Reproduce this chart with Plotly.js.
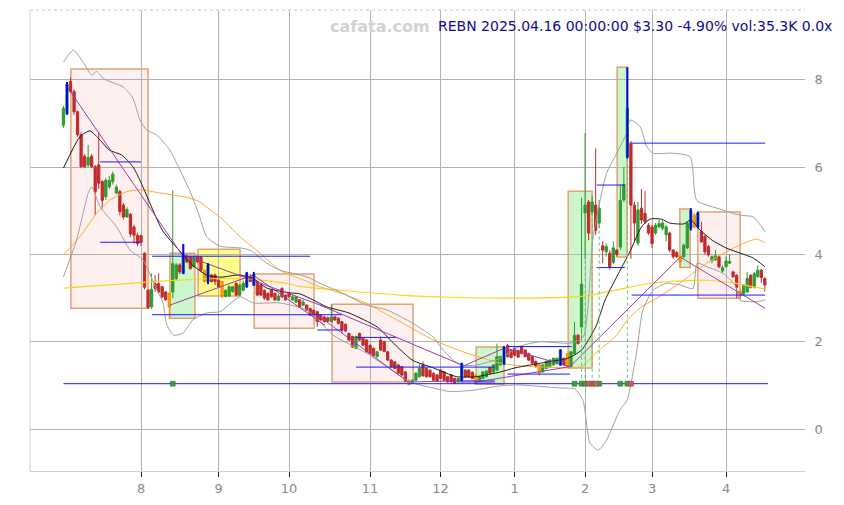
<!DOCTYPE html>
<html><head><meta charset="utf-8">
<script src="https://cdn.plot.ly/plotly-3.0.1.min.js"></script>
<style>html,body{margin:0;padding:0;background:#fff}#chart{width:844px;height:505px}</style>
</head><body><div id="chart"></div>
<script>
// ---- data (x = trading-day index, Jul 1 2024 = 0 ... Apr 16 2025 = 199) ----
const monthTickIdx = [22,44,64,87,107,128,148,167,188];
const monthTickText = ['8','9','10','11','12','1','2','3','4'];

const openP = [6.96,7.23,7.96,7.73,7.27,6.74,6.25,6.05,6.25,6.01,6.05,5.67,5.32,5.55,5.67,5.41,5.44,5.13,4.86,4.92,
4.63,4.44,4.43,4.03,3.18,2.80,3.33,3.33,3.26,3.14,3.11,3.14,3.45,3.76,3.57,3.96,3.95,3.72,3.95,3.95,
3.64,3.38,3.53,3.53,3.41,3.38,3.04,3.05,3.15,3.34,3.07,3.18,3.26,3.49,3.30,3.38,3.30,3.18,3.11,3.18,
3.11,2.95,3.22,3.07,3.11,2.96,2.91,2.96,2.84,2.84,2.76,2.72,2.69,2.61,2.57,2.55,2.46,2.57,2.54,2.46,
2.40,2.19,2.12,1.85,2.19,2.08,2.04,1.92,1.85,1.66,2.04,2.00,1.77,1.58,1.54,1.47,1.43,1.31,1.12,1.05,
1.12,1.20,1.47,1.39,1.35,1.28,1.24,1.35,1.31,1.20,1.24,1.16,1.08,1.12,1.35,1.35,1.30,1.24,1.12,1.16,
1.20,1.41,1.31,1.35,1.47,1.49,1.92,1.81,1.85,1.80,1.89,1.81,1.73,1.66,1.55,1.47,1.31,1.39,1.43,1.47,
1.50,1.47,1.62,1.73,1.43,1.73,2.15,2.34,4.95,5.20,4.97,5.13,4.72,4.20,4.06,4.03,3.82,4.10,4.17,5.25,
6.23,6.55,5.13,4.26,5.06,4.94,4.67,4.63,4.49,4.63,4.60,4.45,4.49,4.10,4.05,3.96,3.95,4.15,4.60,4.90,
4.63,4.52,4.41,4.18,3.86,3.88,3.95,3.62,3.72,3.80,3.60,3.52,3.16,3.10,3.14,3.52,3.25,3.49,3.64,3.45];
const highP = [7.40,7.95,8.05,7.78,7.30,6.80,6.30,6.51,6.30,6.05,6.81,5.70,5.75,5.80,5.90,5.60,5.48,5.18,5.08,4.95,
4.68,4.50,4.46,4.05,3.20,3.57,3.53,3.57,3.28,3.16,3.13,5.47,3.80,3.80,4.24,4.00,3.97,3.97,3.98,3.97,
3.66,3.80,3.55,3.56,3.45,3.40,3.20,3.30,3.28,3.36,3.32,3.40,3.60,3.55,3.60,3.40,3.32,3.20,3.13,3.20,
3.13,3.10,3.25,3.09,3.13,3.08,3.05,2.98,2.96,2.86,2.78,2.74,2.71,2.63,2.60,2.58,2.86,2.60,2.56,2.48,
2.42,2.21,2.14,2.14,2.21,2.10,2.06,1.94,1.87,1.79,2.12,2.02,1.79,1.60,1.56,1.49,1.45,1.33,1.14,1.14,
1.30,1.50,1.55,1.41,1.37,1.30,1.26,1.37,1.33,1.22,1.26,1.18,1.18,1.52,1.37,1.37,1.32,1.26,1.22,1.33,
1.35,1.43,1.49,1.96,1.68,1.90,1.95,1.83,1.87,1.82,1.91,1.83,1.75,1.68,1.57,1.49,1.49,1.57,1.60,1.64,
1.64,1.83,1.64,1.75,1.79,2.45,2.17,5.30,6.78,5.25,5.35,6.43,5.25,4.30,4.25,4.10,4.30,4.12,5.60,6.00,
8.29,6.60,5.20,5.20,5.50,5.45,4.72,4.68,4.72,4.80,4.78,4.68,4.52,4.12,4.07,3.98,4.25,4.75,5.06,4.95,
4.98,4.75,4.45,4.22,3.98,4.10,3.98,3.75,3.95,4.00,3.63,3.55,3.20,3.32,3.60,3.55,3.60,3.75,3.67,3.48];
const lowP = [6.90,7.20,7.70,7.20,6.70,5.98,5.98,6.00,5.98,4.90,5.50,5.05,5.25,5.50,5.60,5.38,4.90,4.80,4.84,4.40,
4.25,4.20,4.20,3.20,2.75,2.75,3.15,3.10,3.00,2.94,2.53,3.00,3.40,3.55,3.55,3.80,3.65,3.70,3.80,3.60,
3.36,3.32,3.36,3.30,3.24,3.00,3.02,3.03,3.12,3.05,3.05,3.16,3.24,3.36,3.28,3.05,3.05,2.96,2.94,3.01,
2.94,2.93,3.00,2.94,3.00,2.94,2.89,2.78,2.82,2.70,2.59,2.59,2.34,2.48,2.44,2.45,2.44,2.48,2.40,2.20,
2.22,2.02,1.86,1.83,2.02,1.90,1.75,1.71,1.67,1.64,1.79,1.76,1.56,1.41,1.37,1.26,1.22,1.08,1.00,1.03,
1.10,1.18,1.20,1.18,1.18,1.10,1.08,1.14,1.10,1.06,1.06,1.03,1.06,1.10,1.18,1.18,1.14,1.03,1.10,1.14,
1.18,1.26,1.29,1.33,1.45,1.47,1.64,1.62,1.67,1.63,1.71,1.64,1.56,1.49,1.41,1.22,1.29,1.37,1.41,1.45,
1.48,1.45,1.45,1.41,1.41,1.71,1.94,2.00,3.90,4.33,4.90,4.45,4.60,3.80,3.95,3.65,3.78,3.95,4.10,5.20,
6.20,3.90,4.30,4.20,4.70,4.70,4.45,4.15,4.45,4.60,4.55,4.30,4.05,3.90,3.92,3.71,3.92,4.12,4.55,4.60,
4.60,4.27,4.00,3.95,3.80,3.85,3.68,3.58,3.70,3.78,3.46,3.00,2.97,3.08,3.12,3.22,3.22,3.47,3.35,3.15];
const closeP = [7.35,7.90,7.73,7.27,6.74,6.01,6.01,6.22,6.01,5.44,5.63,5.24,5.70,5.70,5.84,5.54,4.98,4.86,5.03,4.47,
4.44,4.25,4.28,3.25,2.78,3.20,3.22,3.14,3.03,2.96,2.80,3.79,3.76,3.60,4.00,3.83,3.68,3.95,3.83,3.64,
3.38,3.76,3.38,3.38,3.26,3.04,3.18,3.26,3.26,3.07,3.30,3.34,3.57,3.38,3.54,3.07,3.07,3.00,2.96,3.03,
2.96,3.05,3.03,2.96,3.03,3.03,3.03,2.80,2.91,2.72,2.61,2.61,2.46,2.50,2.46,2.47,2.57,2.50,2.42,2.27,
2.25,2.04,1.88,2.12,2.04,1.92,1.77,1.73,1.69,1.77,1.81,1.78,1.58,1.43,1.39,1.28,1.24,1.10,1.02,1.12,
1.28,1.39,1.22,1.20,1.20,1.12,1.10,1.16,1.12,1.08,1.08,1.05,1.16,1.50,1.20,1.20,1.16,1.05,1.20,1.31,
1.33,1.28,1.47,1.66,1.66,1.88,1.66,1.64,1.69,1.65,1.73,1.66,1.58,1.51,1.43,1.28,1.47,1.55,1.58,1.62,
1.62,1.81,1.47,1.43,1.77,2.15,1.96,3.32,5.13,4.49,5.20,4.55,5.06,4.10,4.18,3.72,4.15,4.00,5.24,5.60,
7.35,5.13,4.72,5.02,4.79,4.75,4.49,4.25,4.67,4.71,4.72,4.63,4.10,3.95,3.95,3.83,4.21,4.72,5.00,4.63,
4.95,4.29,4.06,3.99,3.95,3.97,3.72,3.70,3.85,3.84,3.49,3.25,3.05,3.30,3.45,3.25,3.56,3.64,3.47,3.30];

const blueBars = [1,34,41,52,54,113,125,141,160,178,180];
const orangeBars = [30,40,45,98,117,135,143,175,179,192];

// moving averages / bands (index, value)
const ma20X = [0,4.7,7.5,10.4,13,16.5,19.7,21.7,24.5,28,31,34,36,40.6,44.4,50,53.8,57.7,64.3,67,70.8,74.7,81,89,93.6,99,105,111.6,117,124,128,137.5,143,147,151,153.7,157,160.7,164,166.4,169.7,172,176,178,180.6,184,188,192,195.7,199];
const ma20Y = [5.98,6.70,6.83,6.62,6.39,6.28,6.01,5.70,5.18,4.56,4.26,3.99,3.80,3.53,3.48,3.53,3.45,3.23,3.12,3.10,2.96,2.80,2.66,2.34,1.97,1.58,1.40,1.20,1.20,1.31,1.40,1.54,1.62,1.81,2.34,2.96,3.49,4.06,4.63,4.81,4.81,4.72,4.70,4.79,4.56,4.33,4.15,4.03,3.92,3.72];
const ma50X = [0,4.7,9.4,13,18,21.7,28,36,38.7,41.6,44.4,50,55.8,61.4,67,72.8,78.5,86,95.5,105,114.4,124,129.5,137,143,147,151,156.5,160,164,169,176,182.5,188,194,196.7,199];
const ma50Y = [3.99,4.41,4.94,5.24,5.44,5.48,5.40,5.29,5.20,5.02,4.86,4.41,4.03,3.64,3.45,3.26,3.12,2.88,2.46,2.04,1.74,1.51,1.45,1.42,1.40,1.43,1.74,2.11,2.50,2.80,3.03,3.41,3.80,4.06,4.29,4.35,4.27];
const ma200X = [0,19,30,44,55,64,67,78.5,95.5,110,129.5,147,156.5,163.6,170,182,189,199];
const ma200Y = [3.23,3.34,3.40,3.45,3.42,3.33,3.27,3.18,3.07,3.02,3.00,3.04,3.18,3.30,3.37,3.41,3.36,3.21];
const bbUpX = [0,2.8,6.1,8.0,9.4,11.3,13.2,16.9,19.7,21.7,23.6,26.4,30.2,32.1,35.9,38.7,40.6,44.4,50.1,52.9,57.7,61.4,69.0,72.8,78.5,86.0,91.7,98.3,104.9,107.7,112.5,117.3,123.9,129.5,135.2,143.7,147.4,150.3,154.1,157.0,159.8,160.8,163.6,165.5,167.3,172.9,177.8,179.7,185.4,192.0,195.7,199.1];
const bbUpY = [8.41,8.68,8.34,8.11,8.19,8.03,7.96,7.84,7.58,7.08,6.85,6.74,6.39,6.09,5.45,4.85,4.41,4.19,4.15,4.10,3.80,3.64,3.49,3.34,3.14,2.84,2.73,2.46,2.11,1.81,1.47,1.47,1.62,1.90,2.00,1.97,2.10,4.40,5.86,6.32,6.78,7.08,6.93,6.47,6.32,6.32,6.24,5.24,5.06,4.90,4.86,4.52];
const bbLoX = [0,3.7,7.0,8.0,10.4,15.1,18.9,22.6,26.4,28.2,29.3,31.2,33.9,36.7,40.6,44.4,50.1,53.8,61.4,69.0,72.8,76.5,86.0,91.7,98.3,104.9,109.7,116.2,123.9,129.5,140.9,145.1,147.4,149.4,151.7,154.1,157.9,159.9,162.7,164.4,167.3,171.2,175.0,178.6,179.8,182.5,187.1,190.5,192.0,196.7,199.1];
const bbLoY = [3.49,4.33,5.40,5.55,5.09,4.63,4.10,3.87,3.20,2.90,2.40,2.15,2.20,2.50,2.66,2.69,3.03,2.89,2.89,2.73,2.46,2.15,1.74,1.43,1.08,0.94,0.86,0.89,0.99,1.01,0.94,0.92,0.66,-0.32,-0.48,-0.25,0.44,0.66,1.81,2.73,3.18,3.34,3.30,3.22,3.80,3.72,3.57,3.30,2.95,2.92,2.96];

// pattern boxes
const boxX0 = [2.1,30.2,38.2,54.1,76.2,117.1,143.2,157.1,174.9,180.0];
const boxX1 = [24.0,37.3,50.1,71.1,99.2,125.0,150.0,159.9,177.8,192.0];
const boxLo = [2.77,2.54,3.05,2.31,1.08,1.03,1.40,3.94,3.70,3.00];
const boxHi = [8.25,4.03,4.12,3.55,2.86,1.88,5.45,8.29,5.04,4.97];
const boxKind = ['down','up','flat','down','down','up','up','up','up','down'];

// horizontal levels
const lvlX0 = [10.4,10.4,25.1,25.1,72.0,83.0,83.0,112.5,126.0,126.0,151.3,151.3,161.2,161.2,0];
const lvlX1 = [22.0,22.0,70.0,79.0,79.3,94.3,122.4,122.4,144.2,143.7,159.3,159.3,199.1,199.1,199.9];
const lvlY  = [6.12,4.28,3.96,2.62,2.27,2.10,1.42,1.08,1.89,1.26,5.59,3.70,6.55,3.07,1.04];

// trend lines
const trX0 = [1.3,34.0,30.2,53.8,72.8,72.8,97.8,113.0,125.3,117.3,143.7,175.0];
const trY0 = [7.81,3.99,2.84,3.53,2.84,2.57,1.08,1.43,1.86,1.08,1.43,3.94];
const trX1 = [33.9,74.2,53.8,74.2,113.0,97.8,122.4,125.3,143.7,143.7,175.0,199.0];
const trY1 = [3.96,2.80,3.53,2.38,1.47,1.08,1.12,1.86,1.43,1.43,3.94,2.77];

// signals
const signalLevel = 1.04;
const sigBuy = [31,145,147,148,150,152,158,160];
const sigSell = [149,151,161];
const sigGuide = [147,148,150,152,160];

const headline = 'REBN 2025.04.16 00:00:00 $3.30 -4.90% vol:35.3K 0.0x';
const watermark = 'cafata.com';

// ---- build ----
const FONT = 'DejaVu Sans, sans-serif';
const idxAll = openP.map((_, k) => k);
const orangeSet = new Set(orangeBars);
const normIdx = idxAll.filter(k => !orangeSet.has(k));
const pick = (arr, list) => list.map(k => arr[k]);

function segs(x0, x1, y0, y1) {
  const xs = [], ys = [];
  for (let k = 0; k < x0.length; k++) { xs.push(x0[k], x1[k], null); ys.push(y0[k], y1[k], null); }
  return {xs, ys};
}
function line(x, y, color, width, extra) {
  return Object.assign({type:'scatter', mode:'lines', x, y, hoverinfo:'skip',
    line:{color, width, shape:'spline', smoothing:0.6}}, extra || {});
}

const traces = [];
traces.push(line(ma200X, ma200Y, '#ffd21f', 1.2));
traces.push(line(ma50X, ma50Y, '#ffab33', 1));
traces.push(line(bbUpX, bbUpY, '#a0a0a0', 1));
traces.push(line(bbLoX, bbLoY, '#a0a0a0', 1));
traces.push(line(ma20X, ma20Y, '#1e1e1e', 1));

const tr = segs(trX0, trX1, trY0, trY1);
traces.push({type:'scatter', mode:'lines', x:tr.xs, y:tr.ys, hoverinfo:'skip', line:{color:'#a23aa8', width:1}});
const lv = segs(lvlX0, lvlX1, lvlY, lvlY);
traces.push({type:'scatter', mode:'lines', x:lv.xs, y:lv.ys, hoverinfo:'skip', line:{color:'#1a1aff', width:1}});

function candle(list, up, down, upFill, downFill) {
  return {type:'candlestick', x:list, open:pick(openP,list), high:pick(highP,list),
    low:pick(lowP,list), close:pick(closeP,list), whiskerwidth:0, hoverinfo:'skip',
    increasing:{line:{color:up, width:1}, fillcolor:upFill},
    decreasing:{line:{color:down, width:1}, fillcolor:downFill}};
}
traces.push(candle(normIdx, '#2f9a2f', '#bf2c2c', '#2f9a2f', '#bf2c2c'));
traces.push(candle(orangeBars, '#f08a00', '#f08a00', '#ffa500', '#ffa500'));

// blue highlight bars
const bx = [], by = [];
blueBars.forEach(k => { bx.push(k, k, null); by.push(lowP[k], highP[k], null); });
traces.push({type:'scatter', mode:'lines', x:bx, y:by, hoverinfo:'skip', line:{color:'#0000ff', width:2}});

// signal guides
const gx = [], gy = [];
sigGuide.forEach(k => { gx.push(k, k, null); gy.push(signalLevel, Math.min(openP[k], closeP[k]), null); });
traces.push({type:'scatter', mode:'lines', x:gx, y:gy, hoverinfo:'skip', line:{color:'#6cc06c', width:1, dash:'dot'}});
traces.push({type:'scatter', mode:'markers', x:sigBuy, y:sigBuy.map(() => signalLevel), hoverinfo:'skip',
  marker:{symbol:'square', size:5, color:'#3c9c3c', line:{color:'#2a7a2a', width:0.5}}});
traces.push({type:'scatter', mode:'markers', x:sigSell, y:sigSell.map(() => signalLevel), hoverinfo:'skip',
  marker:{symbol:'square', size:5, color:'#c85a6a', line:{color:'#a03040', width:0.5}}});

const boxFill = {down:'#fff0f0', up:'#ccf6cc', flat:'#ffff8a'};
const shapes = boxX0.map((x0, k) => ({type:'rect', xref:'x', yref:'y', layer:'below',
  x0, x1:boxX1[k], y0:boxLo[k], y1:boxHi[k], fillcolor:boxFill[boxKind[k]],
  line:{color:'#e3a172', width:1.5}}));
shapes.push({type:'line', xref:'paper', yref:'paper', x0:0, x1:1, y0:1, y1:1, line:{color:'#c8c8c8', width:1, dash:'dot'}});
shapes.push({type:'line', xref:'paper', yref:'paper', x0:0, x1:0, y0:0, y1:1, line:{color:'#d4d4d4', width:1}});

const layout = {
  width:844, height:505,
  margin:{l:30, r:39, t:10, b:34, pad:0},
  paper_bgcolor:'#ffffff', plot_bgcolor:'#ffffff',
  showlegend:false, boxgap:0.08,
  font:{family:FONT},
  xaxis:{range:[-9.5, 210.4], tickmode:'array', tickvals:monthTickIdx, ticktext:monthTickText,
    ticks:'outside', ticklen:5, tickcolor:'#222', tickwidth:1,
    showgrid:true, gridcolor:'#b2b2b2', gridwidth:1, zeroline:false,
    showline:true, linecolor:'#d0d0d0', linewidth:1,
    rangeslider:{visible:false}, fixedrange:true,
    tickfont:{family:FONT, size:13, color:'#8a8a8a'}},
  yaxis:{range:[-0.96, 9.6], side:'right', tickmode:'array', tickvals:[0,2,4,6,8],
    ticks:'outside', ticklen:6, tickcolor:'rgba(0,0,0,0)',
    showgrid:true, gridcolor:'#b2b2b2', gridwidth:1, zeroline:false, showline:false, fixedrange:true,
    tickfont:{family:FONT, size:13, color:'#8a8a8a'}},
  shapes,
  annotations:[
    {xref:'paper', yref:'paper', x:0.4516, y:0.965, xanchor:'center', yanchor:'middle', showarrow:false,
     text:'<b>'+watermark+'</b>', font:{family:FONT, size:16, color:'#d2d2d2'}},
    {xref:'paper', yref:'paper', x:1.038, y:0.965, xanchor:'right', yanchor:'middle', showarrow:false,
     text:headline, font:{family:FONT, size:14, color:'#0c0c8c'}}
  ]
};

Plotly.newPlot('chart', traces, layout, {staticPlot:true, displayModeBar:false});
</script>
</body></html>
